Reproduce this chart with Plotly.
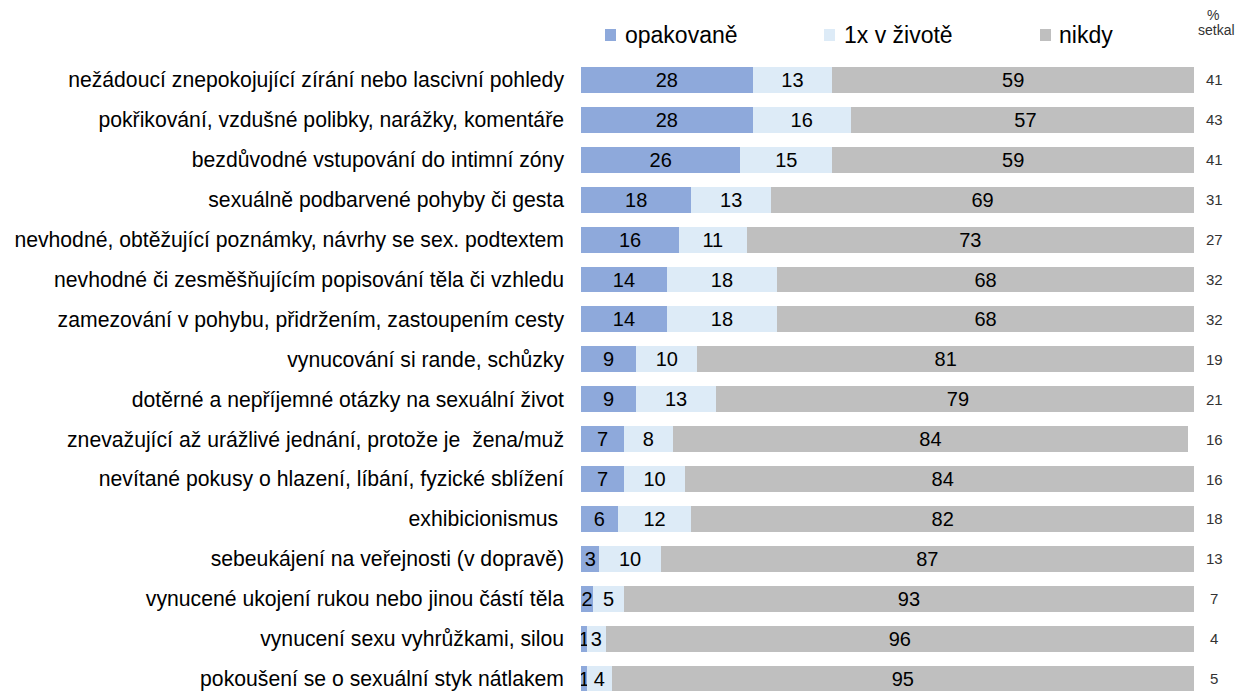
import plotly.graph_objects as go

# kategorie shora dolu
labels = [
    "nežádoucí znepokojující zírání nebo lascivní pohledy",
    "pokřikování, vzdušné polibky, narážky, komentáře",
    "bezdůvodné vstupování do intimní zóny",
    "sexuálně podbarvené pohyby či gesta",
    "nevhodné, obtěžující poznámky, návrhy se sex. podtextem",
    "nevhodné či zesměšňujícím popisování těla či vzhledu",
    "zamezování v pohybu, přidržením, zastoupením cesty",
    "vynucování si rande, schůzky",
    "dotěrné a nepříjemné otázky na sexuální život",
    "znevažující až urážlivé jednání, protože je  žena/muž",
    "nevítané pokusy o hlazení, líbání, fyzické sblížení",
    "exhibicionismus ",
    "sebeukájení na veřejnosti (v dopravě)",
    "vynucené ukojení rukou nebo jinou částí těla",
    "vynucení sexu vyhrůžkami, silou",
    "pokoušení se o sexuální styk nátlakem",
]
opakovane = [28, 28, 26, 18, 16, 14, 14, 9, 9, 7, 7, 6, 3, 2, 1, 1]
jednou = [13, 16, 15, 13, 11, 18, 18, 10, 13, 8, 10, 12, 10, 5, 3, 4]
nikdy = [59, 57, 59, 69, 73, 68, 68, 81, 79, 84, 84, 82, 87, 93, 96, 95]
setkal = [41, 43, 41, 31, 27, 32, 32, 19, 21, 16, 16, 18, 13, 7, 4, 5]

SERIES = [
    ("opakovaně", opakovane, "#8EA9DB"),
    ("1x v životě", jednou, "#DDEBF7"),
    ("nikdy", nikdy, "#BFBFBF"),
]
FONT = "Liberation Sans, Arial, sans-serif"
NARROW = "Liberation Sans Narrow, Arial Narrow, Liberation Sans, sans-serif"

# stranka ma 8px okraj (body margin) -> figura o 8px mensi a posunuta
OFF = 8
W, H = 1244 - OFF, 691 - OFF
L, R, T, B = 581 - OFF, 50, 60 - OFF, 0
PW, PH = W - L - R, H - T - B


def px(x):  # pixel ve strance -> paper x
    return (x - OFF - L) / PW


def py(y):  # pixel ve strance -> paper y
    return (H - B - (y - OFF)) / PH


fig = go.Figure()
for name, vals, col in SERIES:
    fig.add_trace(go.Bar(
        x=vals, y=labels, orientation="h", name=name,
        marker=dict(color=col, line=dict(width=0)),
        text=[str(v) for v in vals], textposition="inside",
        insidetextanchor="middle", textangle=0,
        textfont=dict(size=20, color="#000000", family=FONT),
        width=0.65, showlegend=False,
    ))

# vlastni legenda (ctverecek + text)
LEG_POS = [(605, 623), (824, 842), (1040, 1057)]
for (name, _, col), (sx, tx) in zip(SERIES, LEG_POS):
    fig.add_shape(type="rect", xref="paper", yref="paper",
                  x0=px(sx), x1=px(sx + 11), y0=py(41), y1=py(29),
                  fillcolor=col, line=dict(width=0))
    fig.add_annotation(x=px(tx), y=py(35), xref="paper", yref="paper", text=name,
                       showarrow=False, xanchor="left", yanchor="middle",
                       font=dict(size=23, color="#000000", family=FONT))

# sloupec "% setkal" vpravo
for lab, v in zip(labels, setkal):
    fig.add_annotation(x=px(1214), y=lab, xref="paper", yref="y", text=str(v),
                       showarrow=False, xanchor="center",
                       font=dict(size=15, color="#333333", family=NARROW))
fig.add_annotation(x=px(1213), y=py(15), xref="paper", yref="paper", text="%",
                   showarrow=False, xanchor="center", yanchor="middle",
                   font=dict(size=14, color="#333333", family=NARROW))
fig.add_annotation(x=px(1216), y=py(30), xref="paper", yref="paper", text="setkal",
                   showarrow=False, xanchor="center", yanchor="middle",
                   font=dict(size=14, color="#333333", family=NARROW))

fig.update_layout(
    barmode="stack",
    width=W, height=H,
    margin=dict(l=L, r=R, t=T, b=B, autoexpand=False),
    paper_bgcolor="white", plot_bgcolor="white",
    font=dict(family=FONT, color="#000000", size=21),
    uniformtext=dict(minsize=20, mode="show"),
    showlegend=False,
)
fig.update_xaxes(range=[0, 100], visible=False, showgrid=False)
fig.update_yaxes(categoryorder="array", categoryarray=labels, range=[15.31, -0.5],
                 showgrid=False, zeroline=False, showline=False, ticks="",
                 ticklabelstandoff=16, tickfont=dict(size=21.2, color="#000000"))

fig.write_html("out.html")
